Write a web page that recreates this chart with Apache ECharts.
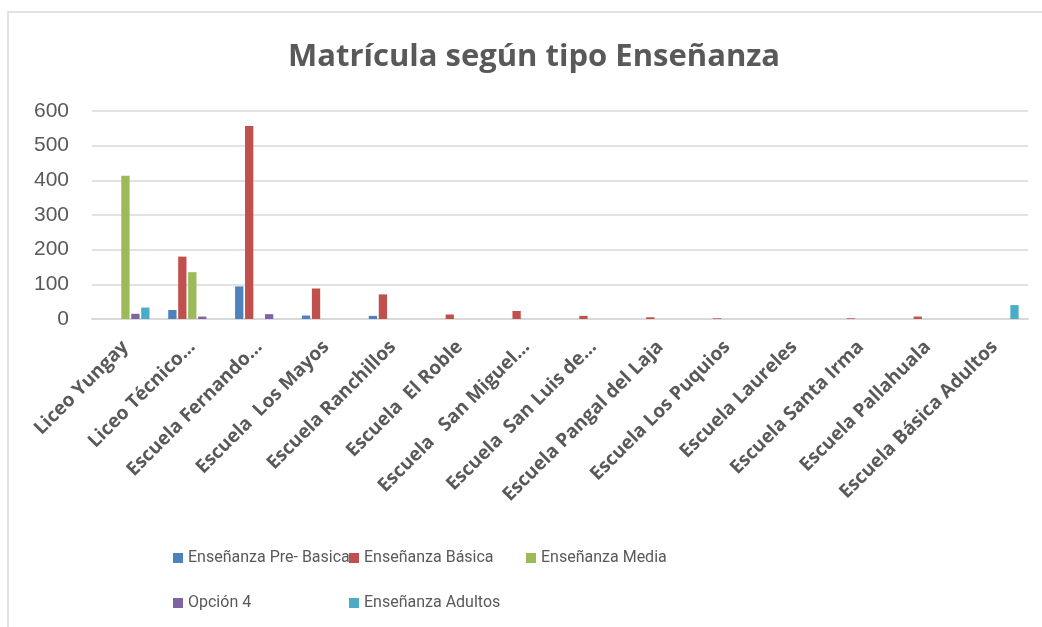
<!DOCTYPE html>
<html>
<head>
<meta charset="utf-8">
<script src="https://cdn.jsdelivr.net/npm/echarts@6/dist/echarts.min.js"></script>
<style>
	html, body { margin: 0; padding: 0; background: #fff; }
	#chart { width: 1042px; height: 627px; }
</style>
</head>
<body>
<div id="chart"></div>
<script>
// categorias (tal como se ven en el eje, ya recortadas)
const escuelas = [
	'Liceo Yungay', 'Liceo Técnico…', 'Escuela Fernando…', 'Escuela  Los Mayos',
	'Escuela Ranchillos', 'Escuela  El Roble', 'Escuela   San Miguel…', 'Escuela  San Luis de…',
	'Escuela Pangal del Laja', 'Escuela Los Puquios', 'Escuela Laureles', 'Escuela Santa Irma',
	'Escuela Pallahuala', 'Escuela Básica Adultos'
];
const preBasica = [0, 26, 94, 10, 9, 0, 0, 0, 0, 0, 0, 0, 0, 0];
const basica = [0, 180, 557, 88, 71, 13, 23, 9, 5, 2, 0, 2, 7, 0];
const media = [413, 135, 0, 0, 0, 0, 0, 0, 0, 0, 0, 0, 0, 0];
const opcion4 = [15, 7, 14, 0, 0, 0, 0, 0, 0, 0, 0, 0, 0, 0];
const adultos = [33, 0, 0, 0, 0, 0, 0, 0, 0, 0, 0, 0, 0, 40];
const yTicks = [0, 100, 200, 300, 400, 500, 600];

const gris = '#595959';
const legendFont = {
	fontFamily: "Roboto, 'Liberation Sans', sans-serif",
	fontSize: 16,
	color: gris
};

const myChart = echarts.init( document.getElementById( 'chart' ), null, { renderer: 'canvas' } );

// una leyenda por columna, para que queden alineadas como en Excel
const makeLegend = function ( left, names ) {
	return {
		orient: 'vertical',
		left: left,
		top: 548,
		padding: 0,
		itemWidth: 10,
		itemHeight: 10,
		itemGap: 25,
		icon: 'rect',
		textStyle: Object.assign( { lineHeight: 20 }, legendFont ),
		data: names
	};
};

const serie = function ( name, color, values ) {
	return {
		name: name,
		type: 'bar',
		data: values,
		barWidth: 8.3,
		barGap: '20%',
		itemStyle: { color: color },
		emphasis: { disabled: true }
	};
};

const options = {
	animation: false,
	backgroundColor: '#fff',
	title: {
		text: 'Matrícula según tipo Enseñanza',
		left: 283,
		top: 37,
		textStyle: {
			fontFamily: "'Open Sans', sans-serif",
			fontWeight: 'bold',
			fontSize: 31,
			color: gris
		}
	},
	graphic: [ {
		type: 'rect',
		shape: { x: 8, y: 12, width: 1100, height: 700 },
		style: { fill: 'none', stroke: '#d9d9d9', lineWidth: 1.5 },
		silent: true
	} ],
	legend: [
		makeLegend( 173, [ 'Enseñanza Pre- Basica', 'Opción 4' ] ),
		makeLegend( 349, [ 'Enseñanza Básica', 'Enseñanza Adultos' ] ),
		makeLegend( 526, [ 'Enseñanza Media' ] )
	],
	grid: {
		left: 92,
		right: 14,
		top: 111,
		bottom: 308,
		containLabel: false
	},
	xAxis: {
		type: 'category',
		data: escuelas,
		axisLine: { lineStyle: { color: '#d9d9d9', width: 2 } },
		axisTick: { show: false },
		axisLabel: {
			interval: 0,
			rotate: 45,
			margin: 25,
			color: gris,
			fontFamily: "'Open Sans', sans-serif",
			fontWeight: 'bold',
			fontSize: 19
		}
	},
	yAxis: {
		type: 'value',
		min: yTicks[0],
		max: yTicks[yTicks.length - 1],
		interval: 100,
		axisLine: { show: false },
		axisTick: { show: false },
		splitLine: { lineStyle: { color: '#d9d9d9', width: 1.5 } },
		axisLabel: {
			margin: 23,
			color: gris,
			fontFamily: "'Liberation Sans', sans-serif",
			fontSize: 21
		}
	},
	series: [
		serie( 'Enseñanza Pre- Basica', '#4f81bd', preBasica ),
		serie( 'Enseñanza Básica', '#c0504d', basica ),
		serie( 'Enseñanza Media', '#9bbb59', media ),
		serie( 'Opción 4', '#8064a2', opcion4 ),
		serie( 'Enseñanza Adultos', '#4bacc6', adultos )
	]
};
myChart.setOption( options );
</script>
</body>
</html>
